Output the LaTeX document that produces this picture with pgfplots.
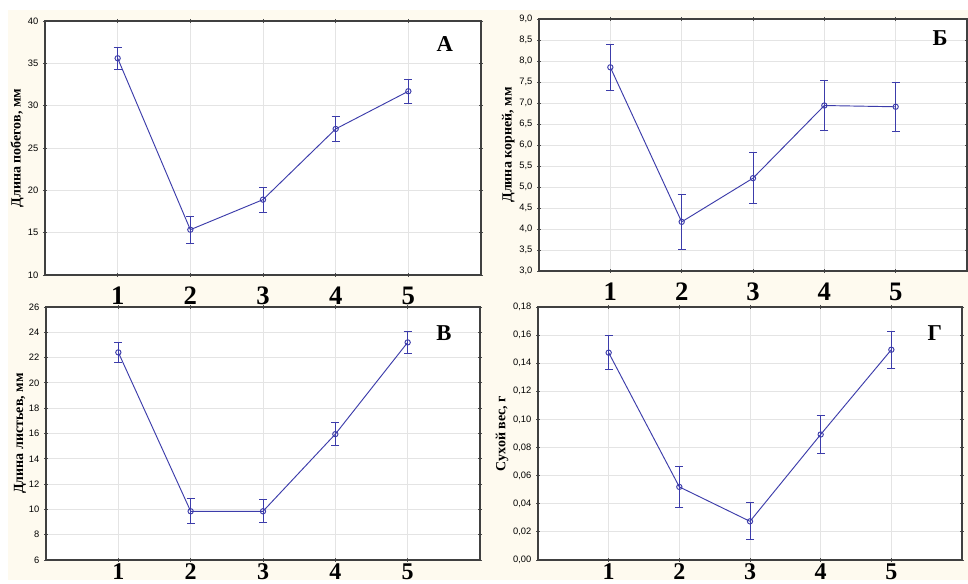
\documentclass[border=0pt]{standalone}
\usepackage{fontspec}
\setmainfont{Liberation Serif}
\setsansfont{Liberation Sans}
\usepackage{pgfplots}
\pgfplotsset{compat=1.18}
\usetikzlibrary{backgrounds}

\definecolor{cream}{RGB}{254,250,239}
\definecolor{linec}{RGB}{60,60,170}
\definecolor{gridc}{RGB}{228,228,228}

\tikzset{letter/.style={font=\fontsize{17}{17}\selectfont\bfseries}}

\pgfplotsset{
  panel/.style={
    scale only axis,
    axis background/.style={fill=white},
    xmin=0, xmax=6,
    xtick={1,2,3,4,5},
    xticklabels={1,2,3,4,5},
    yticklabel style={font=\sffamily\fontsize{7}{7}\selectfont},
    /pgf/number format/assume math mode=true,
    ylabel style={font=\bfseries\fontsize{10.5}{11}\selectfont, anchor=center},
    grid=major,
    grid style={gridc, line width=0.6pt},
    axis line style={black!75, line width=0.8pt},
    tick style={black!70, line width=0.6pt},
    major tick length=3pt,
    tick align=center,
  },
  upper/.style={
    xticklabel style={font=\fontsize{20}{20}\selectfont\bfseries, inner sep=0pt, yshift=-7pt},
  },
  lower/.style={
    xticklabel style={font=\fontsize{18}{18}\selectfont\bfseries, inner sep=0pt, yshift=-1pt},
  },
  series/.style={
    linec, line width=0.7pt, mark=o, mark size=2pt, mark options={solid},
    error bars/.cd, y dir=both, y explicit,
    error bar style={linec, line width=0.7pt},
    error mark options={rotate=90, mark size=3pt, linec, line width=0.7pt},
  },
}

\begin{document}
\begin{tikzpicture}
\useasboundingbox (0,0) rectangle (726pt,438pt);

% A
\begin{axis}[panel, upper, at={(33.75pt,231.75pt)}, anchor=south west,
  width=327pt, height=190.5pt,
  ymin=10, ymax=40, ytick={10,15,...,40},
  ylabel style={at={(axis description cs:-0.064,0.5)}},
  ylabel={Длина побегов, мм}]
\addplot+[series] coordinates {
  (1,35.6) +- (0,1.33)
  (2,15.35) +- (0,1.57)
  (3,18.9) +- (0,1.48)
  (4,27.25) +- (0,1.5)
  (5,31.7) +- (0,1.44)
};
\node[letter] at (rel axis cs:0.917,0.91) {А};
\end{axis}

% Б
\begin{axis}[panel, upper, at={(404.25pt,234.75pt)}, anchor=south west,
  width=321pt, height=189pt,
  ymin=3, ymax=9, ytick={3,3.5,...,9},
  yticklabel style={/pgf/number format/.cd, fixed, fixed zerofill, precision=1, use comma},
  ylabel style={at={(axis description cs:-0.072,0.5)}},
  ylabel={Длина корней, мм}]
\addplot+[series] coordinates {
  (1,7.85) +- (0,0.55)
  (2,4.17) +- (0,0.65)
  (3,5.21) +- (0,0.61)
  (4,6.94) +- (0,0.6)
  (5,6.91) +- (0,0.59)
};
\node[letter] at (rel axis cs:0.937,0.925) {Б};
\end{axis}

% В
\begin{axis}[panel, lower, at={(34.5pt,18pt)}, anchor=south west,
  width=325.5pt, height=189.75pt,
  ymin=6, ymax=26, ytick={6,8,...,26},
  ylabel style={at={(axis description cs:-0.06,0.5)}},
  ylabel={Длина листьев, мм}]
\addplot+[series] coordinates {
  (1,22.41) +- (0,0.82)
  (2,9.85) +- (0,1.0)
  (3,9.85) +- (0,0.9)
  (4,15.95) +- (0,0.93)
  (5,23.2) +- (0,0.88)
};
\node[letter] at (rel axis cs:0.917,0.897) {В};
\end{axis}

% Г
\begin{axis}[panel, lower, at={(403.5pt,18pt)}, anchor=south west,
  width=318pt, height=189.75pt,
  ymin=0, ymax=0.18, ytick={0,0.02,...,0.18},
  yticklabel style={/pgf/number format/.cd, fixed, fixed zerofill, precision=2, use comma},
  ylabel style={at={(axis description cs:-0.085,0.5)}},
  ylabel={Сухой вес, г}]
\addplot+[series] coordinates {
  (1,0.1475) +- (0,0.012)
  (2,0.052) +- (0,0.0143)
  (3,0.0275) +- (0,0.0132)
  (4,0.0893) +- (0,0.0133)
  (5,0.1496) +- (0,0.013)
};
\node[letter] at (rel axis cs:0.936,0.897) {Г};
\end{axis}

\begin{scope}[on background layer]
\fill[cream] (6pt,3pt) rectangle (726pt,430.5pt);
\end{scope}
\end{tikzpicture}
\end{document}
